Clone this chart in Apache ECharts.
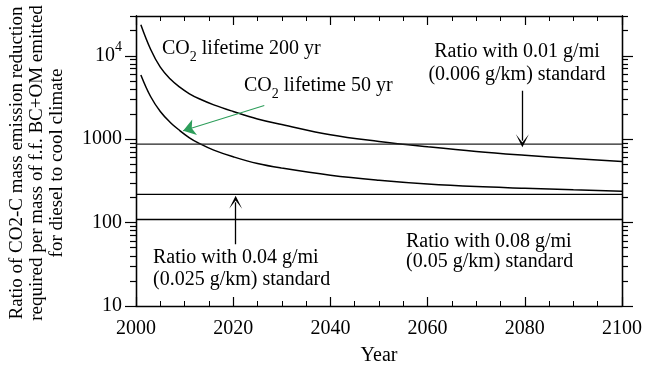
<!DOCTYPE html>
<html>
<head>
<meta charset="utf-8">
<script src="https://cdn.jsdelivr.net/npm/echarts@6/dist/echarts.min.js"></script>
<style>
  html, body { margin: 0; padding: 0; background: #fff; }
  #chart { width: 649px; height: 371px; }
</style>
</head>
<body>
<div id="chart"></div>
<script>
// curves (year, ratio)
var years = [2001, 2003, 2005, 2007, 2009, 2011, 2013, 2016, 2020, 2025, 2030, 2040, 2050, 2060, 2070, 2080, 2090, 2100];
var life200 = [23600, 12000, 7300, 5300, 4200, 3500, 3050, 2580, 2150, 1750, 1500, 1130, 940, 810, 710, 640, 585, 540];
var life50 = [5900, 3250, 2150, 1600, 1270, 1040, 890, 740, 615, 510, 450, 370, 322, 290, 270, 258, 247, 238];

// standard ratio lines
var std001 = 872;
var std004 = 218;
var std008 = 109;

var xTicks = [2000, 2020, 2040, 2060, 2080, 2100];
var yMajor = [10, 100, 1000, 10000];
var yMinor = [20, 30, 40, 50, 60, 70, 80, 90, 200, 300, 400, 500, 600, 700, 800, 900,
  2000, 3000, 4000, 5000, 6000, 7000, 8000, 9000, 20000, 30000];

var serif = '"Liberation Serif", "Times New Roman", serif';
var chart = echarts.init(document.getElementById('chart'));

function pairs(xs, ys) {
  return xs.map(function (x, i) { return [x, ys[i]]; });
}
function flat(v) {
  return [[xTicks[0], v], [xTicks[xTicks.length - 1], v]];
}

var axisLine = { show: true, lineStyle: { color: '#000', width: 1.3 } };

function xAxis(pos, labels) {
  return {
    type: 'value', position: pos, min: 2000, max: 2100, interval: 20,
    axisLine: axisLine,
    axisTick: { show: true, inside: true, length: 9, lineStyle: { color: '#000', width: 1.2 } },
    minorTick: { show: true, splitNumber: 4, length: 5, lineStyle: { color: '#000', width: 1 } },
    axisLabel: { show: labels, color: '#000', fontFamily: serif, fontSize: 20, margin: 13,
      formatter: function (v) { return String(v); } },
    splitLine: { show: false },
    name: labels ? 'Year' : '', nameLocation: 'middle', nameGap: 40,
    nameTextStyle: { color: '#000', fontFamily: serif, fontSize: 20 }
  };
}

function yAxis(pos, values, len, labels) {
  return {
    type: 'log', position: pos, min: 10, max: 30000, logBase: 10,
    axisLine: axisLine,
    axisTick: { show: true, inside: false, length: len, customValues: values,
      lineStyle: { color: '#000', width: 1.2 } },
    axisLabel: {
      show: labels, customValues: yMajor, margin: 14, color: '#000',
      fontFamily: serif, fontSize: 20,
      formatter: function (v) { return v >= 10000 ? '{b|10}{s|4}' : '{b|' + v + '}'; },
      rich: {
        b: { fontFamily: serif, fontSize: 20, lineHeight: 30, color: '#000' },
        s: { fontFamily: serif, fontSize: 14, lineHeight: 12, verticalAlign: 'top', color: '#000' }
      }
    },
    splitLine: { show: false }
  };
}

var chevron = 'path://M5,0 L10,11 L5,4 L0,11 Z';

var co2Rich = {
  a: { fontFamily: serif, fontSize: 20, lineHeight: 30, color: '#000' },
  d: { fontFamily: serif, fontSize: 14, lineHeight: 12, verticalAlign: 'bottom', color: '#000' }
};

var option = {
  animation: false,
  backgroundColor: '#fff',
  grid: { left: 136, right: 27, top: 16, bottom: 62 },
  xAxis: [xAxis('bottom', true), xAxis('top', false)],
  yAxis: [
    yAxis('left', yMajor, 11, true),
    yAxis('left', yMinor, 6, false),
    yAxis('right', yMajor, 11, false),
    yAxis('right', yMinor, 6, false)
  ],
  series: [
    { type: 'line', data: pairs(years, life200), smooth: 0.4, showSymbol: false,
      lineStyle: { color: '#000', width: 1.5 } },
    { type: 'line', data: pairs(years, life50), smooth: 0.4, showSymbol: false,
      lineStyle: { color: '#000', width: 1.5 } },
    { type: 'line', data: flat(std001), showSymbol: false, lineStyle: { color: '#222', width: 1.4 } },
    { type: 'line', data: flat(std004), showSymbol: false, lineStyle: { color: '#000', width: 1.4 } },
    { type: 'line', data: flat(std008), showSymbol: false, lineStyle: { color: '#000', width: 1.4 } },
    {
      type: 'line', data: [], silent: true,
      markLine: {
        silent: true, animation: false, label: { show: false },
        symbol: ['none', chevron], symbolSize: 13,
        lineStyle: { color: '#000', width: 1.3, type: 'solid' },
        itemStyle: { color: '#000' },
        data: [
          [{ coord: [2079.5, 3810] }, { coord: [2079.5, 960] }],
          [{ coord: [2020.5, 55] }, { coord: [2020.5, 175] }]
        ]
      }
    },
    {
      type: 'line', data: [], silent: true,
      markLine: {
        silent: true, animation: false, label: { show: false },
        symbol: ['none', 'arrow'], symbolSize: 12,
        lineStyle: { color: '#2e9e5b', width: 1.1, type: 'solid' },
        itemStyle: { color: '#2e9e5b' },
        data: [
          [{ coord: [2026.4, 2530] }, { coord: [2009.7, 1260] }]
        ]
      }
    }
  ],
  graphic: [
    { type: 'text', x: 162, y: 49, style: { text: '{a|CO}{d|2}{a| lifetime 200 yr}', rich: co2Rich,
      verticalAlign: 'middle', align: 'left' } },
    { type: 'text', x: 244, y: 86, style: { text: '{a|CO}{d|2}{a| lifetime 50 yr}', rich: co2Rich,
      verticalAlign: 'middle', align: 'left' } },
    { type: 'text', x: 517, y: 63, style: { text: 'Ratio with 0.01 g/mi\n(0.006 g/km) standard',
      font: '20px ' + serif, lineHeight: 23, fill: '#000', align: 'center', verticalAlign: 'middle' } },
    { type: 'text', x: 153, y: 269, style: { text: 'Ratio with 0.04 g/mi\n(0.025 g/km) standard',
      font: '20px ' + serif, lineHeight: 22, fill: '#000', align: 'left', verticalAlign: 'middle' } },
    { type: 'text', x: 406, y: 252, style: { text: 'Ratio with 0.08 g/mi\n(0.05 g/km) standard',
      font: '20px ' + serif, lineHeight: 20, fill: '#000', align: 'left', verticalAlign: 'middle' } },
    { type: 'text', x: 37, y: 163, rotation: Math.PI / 2,
      style: { text: 'Ratio of CO2-C mass emission reduction\nrequired per mass of f.f. BC+OM emitted\nfor diesel to cool climate',
        font: '19px ' + serif, lineHeight: 20, fill: '#000', align: 'center', verticalAlign: 'middle' } }
  ]
};

chart.setOption(option);
</script>
</body>
</html>
